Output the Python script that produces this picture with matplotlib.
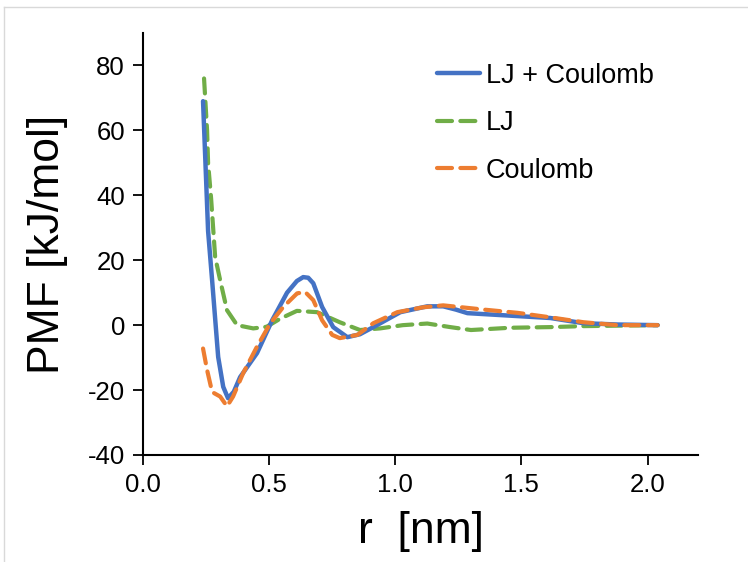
import matplotlib
matplotlib.use('Agg')
import matplotlib.pyplot as plt
from matplotlib.lines import Line2D

plt.rcParams['font.family'] = ['Liberation Sans', 'DejaVu Sans']

# ── Data ─────────────────────────────────────────────────────────
r_total = [0.238, 0.258, 0.274, 0.298, 0.318, 0.337, 0.36, 0.385, 0.452, 0.512,
           0.571, 0.61, 0.635, 0.655, 0.675, 0.71, 0.754, 0.81, 0.86, 0.913,
           1.02, 1.127, 1.19, 1.24, 1.286, 1.417, 1.615, 1.746, 1.88, 2.04]
pmf_total = [69, 29, 13.8, -9.8, -19, -22.5, -20.5, -16, -8.6, 1.5,
             10, 13.6, 14.8, 14.6, 12.9, 5.6, -0.6, -3.7, -2.8, -0.6,
             4.0, 5.8, 5.8, 4.8, 3.7, 3.1, 2.2, 0.6, 0.2, 0.0]

r_lj = [0.242, 0.254, 0.258, 0.27, 0.278, 0.286, 0.306, 0.333, 0.373, 0.437,
        0.49, 0.544, 0.61, 0.69, 0.78, 0.86, 0.94, 1.03, 1.127, 1.218,
        1.3, 1.456, 1.615, 1.746, 2.04]
pmf_lj = [76, 60, 50, 39, 30, 21, 13.8, 4.6, 0, -1,
          -0.5, 2, 4.4, 4, 0.9, -1.5, -1, 0, 0.5, -0.6,
          -1.5, -0.8, -0.6, -0.3, 0]

r_coul = [0.238, 0.254, 0.274, 0.306, 0.333, 0.357, 0.397, 0.452, 0.504, 0.556,
          0.611, 0.643, 0.675, 0.71, 0.75, 0.78, 0.85, 0.913, 1.008, 1.11,
          1.19, 1.35, 1.484, 1.615, 1.746, 1.88, 2.04]
pmf_coul = [-7.2, -13.8, -20.6, -22, -25, -22, -14.8, -6.6, 0.5, 5.6,
            9.8, 10.2, 7.7, 1.5, -3, -4, -3, 0.6, 4, 5.5,
            6.1, 4.8, 3.8, 2.4, 0.9, 0, 0]

x_ticks = [0.0, 0.5, 1.0, 1.5, 2.0]
y_ticks = [-40, -20, 0, 20, 40, 60, 80]

BLUE, GREEN, ORANGE = '#4472C4', '#70AD47', '#ED7D31'

# ── Figure ───────────────────────────────────────────────────────
fig = plt.figure(figsize=(7.48, 5.62), dpi=100)
ax = fig.add_axes([143 / 748, 107 / 562, 555 / 748, 422 / 562])

ax.plot(r_total, pmf_total, color=BLUE, lw=3.2, solid_capstyle='round',
        solid_joinstyle='round', label='LJ + Coulomb', zorder=3)
ax.plot(r_lj, pmf_lj, color=GREEN, lw=3.0, dashes=(3.6, 2.0),
        dash_capstyle='round', label='LJ', zorder=2)
ax.plot(r_coul, pmf_coul, color=ORANGE, lw=3.0, dashes=(3.6, 2.0),
        dash_capstyle='round', label='Coulomb', zorder=4)

ax.set_xlim(0, 2.2)
ax.set_ylim(-40, 90)
ax.set_xticks(x_ticks)
ax.set_xticklabels([f'{v:.1f}' for v in x_ticks])
ax.set_yticks(y_ticks)
ax.set_yticklabels([str(v) for v in y_ticks])

for side in ('top', 'right'):
    ax.spines[side].set_visible(False)
for side in ('left', 'bottom'):
    ax.spines[side].set_linewidth(1.5)
ax.tick_params(direction='out', length=7, width=1.3, labelsize=18.5, pad=6)

ax.set_xlabel('r  [nm]', fontsize=32, labelpad=10)
ax.set_ylabel('PMF [kJ/mol]', fontsize=32, labelpad=14)

leg = ax.legend(loc='upper left', bbox_to_anchor=(0.53, 0.93), frameon=False,
                fontsize=19.5, handlelength=1.6, handletextpad=0.2,
                labelspacing=0.8, borderaxespad=0, borderpad=0)

# light chart-area border like the original
fig.add_artist(Line2D([4 / 748, 4 / 748], [0, 1 - 7 / 562], color='#d9d9d9', lw=1))
fig.add_artist(Line2D([4 / 748, 1], [1 - 7 / 562, 1 - 7 / 562], color='#d9d9d9', lw=1))

fig.savefig('out.png', dpi=100)
